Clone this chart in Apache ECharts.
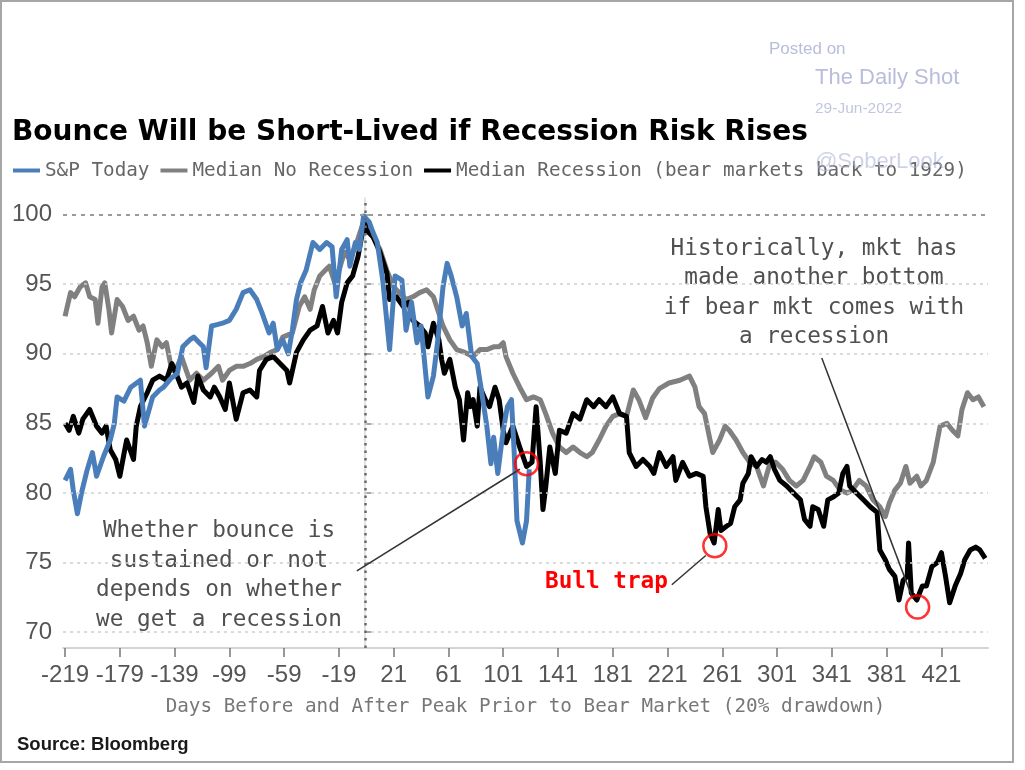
<!DOCTYPE html>
<html>
<head>
<meta charset="utf-8">
<script src="https://cdn.jsdelivr.net/npm/echarts@6/dist/echarts.min.js"></script>
<style>
html,body{margin:0;padding:0;background:#fff;}
#chart{width:1025px;height:770px;}
</style>
</head>
<body>
<div id="chart"></div>
<script>
// ---------- DATA ----------
const xTicks = [-219,-179,-139,-99,-59,-19,21,61,101,141,181,221,261,301,341,381,421];
const yTicks = [70,75,80,85,90,95,100];

const spDays = [-219,-215,-213,-210,-207,-203,-199,-196,-191,-186,-183,-181,-176,-171,-164,-161,-157,-155,-150,-147,-142,-137,-133,-128,-125,-121,-118,-116,-112,-108,-104,-99,-94,-89,-84,-79,-75,-70,-67,-64,-60,-56,-53,-50,-47,-43,-38,-33,-28,-24,-21,-17,-13,-11,-7,-4,-1,0,3,6,9,13,18,22,27,30,34,38,41,46,50,53,57,60,63,67,71,74,78,82,85,89,92,94,97,101,104,107,109,111,115,118,120];
const spVals = [80.9,81.7,80.2,78.5,80.0,81.6,82.9,81.2,82.6,83.8,85.0,86.9,86.6,87.6,88.1,84.8,86.2,86.9,87.4,87.6,88.2,88.6,90.5,91.0,91.2,90.8,90.5,89.0,92.0,92.1,92.2,92.4,93.2,94.4,94.6,93.9,92.9,91.5,92.2,90.3,91.0,90.0,91.7,93.9,95.1,96.0,98.0,97.5,98.0,97.7,94.1,97.5,98.2,96.3,98.0,97.5,99.9,100.0,99.5,98.7,98.0,95.3,90.3,95.6,95.3,91.7,93.7,90.8,92.0,86.9,88.4,90.8,94.8,96.5,95.6,94.1,92.0,92.9,89.8,89.3,87.4,84.8,82.1,84.0,81.4,84.5,86.2,86.7,82.9,78.0,76.4,78.0,81.7];

const noRecDays = [-219,-215,-212,-208,-204,-201,-197,-195,-192,-190,-187,-185,-181,-177,-173,-169,-165,-162,-159,-156,-152,-148,-145,-141,-137,-134,-128,-123,-118,-112,-107,-104,-99,-94,-89,-84,-79,-74,-69,-64,-60,-53,-48,-44,-40,-37,-33,-29,-26,-22,-18,-15,-11,-6,-2,0,1,6,11,16,21,25,30,35,40,45,50,53,57,62,67,73,79,84,89,94,98,101,103,108,113,118,123,128,132,137,142,147,152,157,162,166,171,176,181,186,191,196,200,205,210,215,222,230,237,241,244,248,252,254,259,263,266,271,276,281,286,291,296,300,305,310,315,320,325,328,333,337,342,347,352,356,361,366,371,376,380,383,387,391,395,398,403,406,410,415,420,425,429,433,436,440,444,448,452];
const noRecVals = [92.7,94.4,94.1,94.8,95.1,94.1,93.9,92.2,94.8,95.1,93.2,91.5,93.9,93.4,92.4,92.7,91.7,92.0,90.8,89.1,91.0,90.5,90.8,88.8,89.1,89.8,88.1,88.6,88.1,88.6,89.1,88.1,88.8,89.1,89.1,89.3,89.6,89.8,90.1,90.3,91.2,91.5,93.4,94.1,93.2,94.6,95.6,96.0,96.3,95.1,96.3,97.3,96.8,98.0,99.2,99.8,99.4,98.4,97.5,96.0,94.8,94.4,93.9,94.1,94.4,94.6,94.1,93.2,92.0,91.0,90.3,90.1,89.8,90.3,90.3,90.5,90.5,90.8,89.8,88.6,87.6,86.7,86.9,86.7,85.7,84.3,83.3,82.9,83.3,82.9,82.6,82.9,83.8,84.8,85.5,85.7,85.5,87.4,86.7,85.4,86.8,87.5,87.9,88.1,88.4,87.6,86.2,85.7,83.8,82.9,83.8,84.8,84.5,83.8,82.9,82.2,81.9,80.5,82.2,82.2,81.7,80.9,80.5,80.9,81.9,82.6,82.2,81.2,80.9,80.2,80.0,80.2,80.9,80.5,79.5,79.0,78.3,79.3,80.2,80.7,81.9,80.7,81.2,80.5,80.9,82.2,84.8,85.0,84.5,84.1,86.0,87.2,86.7,86.9,86.2];

const recDays = [-219,-216,-213,-209,-206,-201,-196,-192,-189,-186,-182,-179,-176,-174,-169,-167,-164,-159,-155,-150,-145,-141,-138,-134,-130,-125,-122,-118,-113,-110,-106,-102,-99,-94,-89,-84,-79,-77,-72,-67,-62,-57,-55,-50,-45,-40,-35,-31,-27,-23,-20,-17,-13,-9,-5,-1,0,1,6,11,16,18,23,28,32,35,40,44,46,50,54,56,58,62,66,69,72,75,77,79,82,84,88,91,95,98,101,103,108,113,118,122,125,128,130,132,135,139,142,147,152,157,162,167,171,176,181,186,191,193,198,203,208,211,215,220,225,227,232,237,242,247,249,252,255,258,260,264,267,270,274,276,280,282,286,290,293,296,299,303,308,313,318,321,325,327,331,335,338,342,346,349,352,354,359,364,369,374,376,380,383,387,390,393,396,397,399,403,407,410,414,418,421,424,427,431,435,438,442,446,449,453];
const recVals = [85.0,84.5,85.5,84.3,85.3,86.0,84.8,84.3,84.8,83.1,82.4,81.2,82.8,83.8,82.4,84.8,86.2,87.2,88.1,88.4,88.1,89.3,88.6,87.6,87.9,86.5,88.4,87.4,86.9,87.6,86.9,86.0,87.9,85.3,87.2,87.4,86.9,88.8,89.6,89.8,89.3,88.8,87.9,90.1,91.0,91.7,92.0,93.4,91.5,92.4,91.5,93.7,95.1,95.6,97.0,99.2,99.6,98.9,98.4,97.3,95.8,93.9,94.1,93.4,93.7,92.4,92.0,91.5,90.5,92.2,91.0,89.6,88.6,89.6,87.6,86.7,83.8,87.2,86.2,86.7,84.8,87.6,86.7,86.2,87.6,86.7,84.5,83.6,84.8,83.3,81.9,82.2,86.2,82.2,78.8,80.4,83.3,81.4,84.5,84.3,85.7,85.3,86.7,86.2,86.7,86.2,86.9,85.7,85.5,82.9,81.9,82.4,81.9,81.4,82.9,81.9,82.6,80.9,82.2,81.2,81.4,81.2,79.0,77.1,76.4,78.8,77.3,77.6,77.8,79.0,79.5,80.7,81.4,82.6,81.9,82.4,82.2,82.6,81.7,80.9,80.5,80.0,79.5,78.1,77.6,79.0,78.8,77.6,79.5,79.7,80.0,81.4,81.9,80.5,80.0,79.5,79.0,78.6,75.9,75.2,74.5,74.0,72.3,73.7,74.0,76.4,72.8,72.3,73.3,73.3,74.7,75.0,75.7,74.0,72.1,73.3,74.2,75.2,75.9,76.1,75.9,75.3];

// annotation anchors in data coordinates [day, value]
const circles = [[118, 82.1],[255.5, 76.2],[403.6, 71.8]];
const leaders = [
  [[-5.9, 74.4],[113.1, 81.7]],
  [[224.1, 73.4],[248.9, 75.5]],
  [[333.6, 89.7],[400.0, 72.4]]
];
const peakDay = 0;

const seriesNames = ['S&P Today','Median No Recession','Median Recession (bear markets back to 1929)'];

// ---------- BUILD ----------
function pairs(d, v){ return d.map((x,i)=>[x, v[i]]); }

const MONO = "'DejaVu Sans Mono', 'Liberation Mono', monospace";
const TICKFONT = "'Liberation Sans', Arial, sans-serif";

const chart = echarts.init(document.getElementById('chart'), null, {renderer:'canvas'});

const gridLines = yTicks.map(v => ({
  yAxis: v,
  lineStyle: v === 100 ? {color:'#9a9a9a', width:2, type:[4,5]} : {color:'#cfcfcf', width:1.5, type:[3,4]}
}));
gridLines.push({xAxis: peakDay, lineStyle:{color:'#6a6a6a', width:2.5, type:[2.5,5]}});

const LW = 5;

const option = {
  animation: false,
  backgroundColor: '#fff',
  grid: {left: 63, right: 37, top: 198, bottom: 122, containLabel: false},
  legend: {
    data: seriesNames,
    left: 13, top: 161, padding: 0,
    itemWidth: 27, itemHeight: 4, itemGap: 11,
    icon: 'rect',
    textStyle: {fontFamily: MONO, fontSize: 19.3, color: '#666'}
  },
  xAxis: {
    type: 'value', min: -220.5, max: 455,
    splitLine: {show: false},
    axisLine: {show: true, lineStyle: {color: '#d4d4d4', width: 2}},
    axisTick: {show: true, customValues: xTicks, length: 9, lineStyle: {color: '#777', width: 1.5}},
    axisLabel: {customValues: xTicks, showMinLabel: true, showMaxLabel: true, hideOverlap: false, margin: 15, fontFamily: TICKFONT, fontSize: 24, color: '#555'},
    name: 'Days Before and After Peak Prior to Bear Market (20% drawdown)',
    nameLocation: 'middle', nameGap: 49,
    nameTextStyle: {fontFamily: MONO, fontSize: 19.3, color: '#777'}
  },
  yAxis: {
    type: 'value', min: 68.85, max: 101.2,
    splitLine: {show: false},
    axisLine: {show: true, lineStyle: {color: '#d9d9d9', width: 1.5}},
    axisTick: {show: true, inside: true, customValues: yTicks, length: 6, lineStyle: {color: '#888', width: 1.5}},
    axisLabel: {customValues: yTicks, showMinLabel: true, showMaxLabel: true, margin: 11, fontFamily: TICKFONT, fontSize: 24, color: '#555'}
  },
  series: [
    {
      name: 'gridHelper', type: 'line', data: [], z: 1, silent: true,
      markLine: {silent: true, symbol: 'none', label: {show: false}, data: gridLines, animation: false}
    },
    {
      name: seriesNames[1], type: 'line', data: pairs(noRecDays, noRecVals), z: 2,
      showSymbol: false, symbol: 'none', color: '#808080',
      lineStyle: {width: LW, color: '#808080', join: 'round'}
    },
    {
      name: seriesNames[2], type: 'line', data: pairs(recDays, recVals), z: 3,
      showSymbol: false, symbol: 'none', color: '#000000',
      lineStyle: {width: LW, color: '#000000', join: 'round'}
    },
    {
      name: seriesNames[0], type: 'line', data: pairs(spDays, spVals), z: 4,
      showSymbol: false, symbol: 'none', color: '#4a7ebb',
      lineStyle: {width: LW, color: '#4a7ebb', join: 'round'}
    },
    {
      name: 'annot', type: 'line', data: [], z: 6, silent: true,
      markLine: {
        silent: true, symbol: 'none', label: {show: false}, animation: false,
        lineStyle: {color: '#333', width: 1.5, type: 'solid'},
        data: leaders.map(l => [{coord: l[0]}, {coord: l[1]}])
      }
    },
    {
      name: 'circles', type: 'scatter', z: 7, silent: true,
      data: circles, symbol: 'circle', symbolSize: 23,
      itemStyle: {color: 'rgba(0,0,0,0)', borderColor: '#ff0000', borderWidth: 2.5}
    }
  ],
  graphic: [
    {type: 'rect', shape: {x: 1, y: 1, width: 1012, height: 761}, style: {fill: 'none', stroke: '#a6a6a6', lineWidth: 2}, silent: true},
    {type: 'text', x: 12, y: 133, style: {text: 'Bounce Will be Short-Lived if Recession Risk Rises', font: "bold 28px 'DejaVu Sans', sans-serif", fill: '#000', align: 'left', verticalAlign: 'middle'}},
    {type: 'text', x: 769, y: 49, style: {text: 'Posted on', font: "17px 'Liberation Sans', Arial, sans-serif", fill: '#b9bddb', align: 'left', verticalAlign: 'middle'}},
    {type: 'text', x: 815, y: 78, style: {text: 'The Daily Shot', font: "22px 'Liberation Sans', Arial, sans-serif", fill: '#b9bddb', align: 'left', verticalAlign: 'middle'}},
    {type: 'text', x: 815, y: 109, style: {text: '29-Jun-2022', font: "15.5px 'Liberation Sans', Arial, sans-serif", fill: '#c3c6e0', align: 'left', verticalAlign: 'middle'}},
    {type: 'text', x: 815, y: 162, z: 100, style: {text: '@SoberLook', font: "22px 'Liberation Sans', Arial, sans-serif", fill: 'rgba(175,180,215,0.6)', align: 'left', verticalAlign: 'middle'}},
    {type: 'text', x: 814, y: 234, style: {text: 'Historically, mkt has\nmade another bottom\nif bear mkt comes with\na recession', font: "22.7px " + MONO, lineHeight: 29.6, fill: '#505050', align: 'center', verticalAlign: 'top'}},
    {type: 'text', x: 219, y: 516, style: {text: 'Whether bounce is\nsustained or not\ndepends on whether\nwe get a recession', font: "22.7px " + MONO, lineHeight: 29.8, fill: '#505050', align: 'center', verticalAlign: 'top'}},
    {type: 'text', x: 545, y: 582, style: {text: 'Bull trap', font: "bold 22.7px " + MONO, fill: '#ff0000', align: 'left', verticalAlign: 'middle'}},
    {type: 'text', x: 17, y: 745, style: {text: 'Source: Bloomberg', font: "bold 18.5px 'Liberation Sans', Arial, sans-serif", fill: '#1a1a1a', align: 'left', verticalAlign: 'middle'}}
  ]
};
chart.setOption(option);
</script>
</body>
</html>
